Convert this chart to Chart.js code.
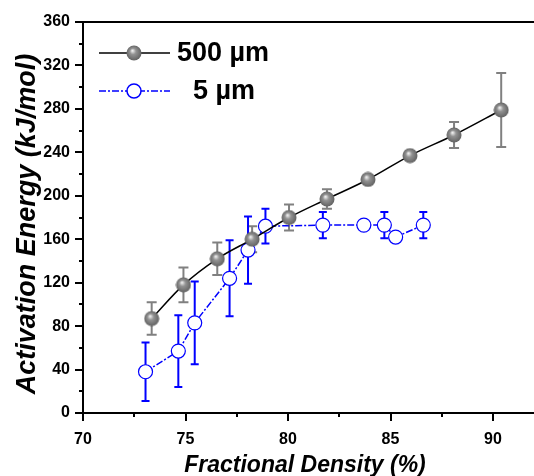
<!DOCTYPE html>
<html>
<head>
<meta charset="utf-8">
<script src="https://cdn.jsdelivr.net/npm/chart.js@4/dist/chart.umd.min.js"></script>
<style>html,body{margin:0;padding:0;background:#fff}</style>
</head>
<body>
<canvas id="myChart" width="534" height="476"></canvas>
<script>
// 500 um powder
const densityBig = [73.35, 74.9, 76.55, 78.25, 80.05, 81.9, 83.9, 85.95, 88.1, 90.4];
const energyBig = [87, 118, 142, 160, 180, 197, 215, 237, 256, 279];
const errorBig = [15, 16, 15, 12, 12, 9, 4, 4, 12, 34];

// 5 um powder
const densitySmall = [73.05, 74.65, 75.45, 77.15, 78.05, 78.9, 81.7, 83.7, 84.7, 85.25, 86.6];
const energySmall = [38, 57, 83, 124, 150, 172, 173, 173, 173, 162, 173];
const errorSmall = [27, 33, 38, 35, 31, 16, 12, 0, 12, 0, 12];

const xTicks = [70, 75, 80, 85, 90];
const yTicks = [0, 40, 80, 120, 160, 200, 240, 280, 320, 360];

const FONT = '"Liberation Sans", Arial, sans-serif';

function makeSphere(d) {
    const c = document.createElement('canvas');
    c.width = d; c.height = d;
    const g = c.getContext('2d');
    const r = d / 2;
    const grad = g.createRadialGradient(r * 0.8, r * 0.7, r * 0.05, r, r, r);
    grad.addColorStop(0, '#eeeeee');
    grad.addColorStop(0.35, '#939393');
    grad.addColorStop(1, '#5e5e5e');
    g.fillStyle = grad;
    g.beginPath();
    g.arc(r, r, r - 0.5, 0, Math.PI * 2);
    g.fill();
    return c;
}
const sphere = makeSphere(16);

function toPoints(xs, ys) {
    return xs.map((x, i) => ({ x: x, y: ys[i] }));
}

const errorBars = {
    id: 'errorBars',
    beforeDatasetsDraw(chart) {
        const ctx = chart.ctx;
        const xs = chart.scales.x, ys = chart.scales.y;
        const sets = [
            { xv: densityBig, yv: energyBig, e: errorBig, color: '#808080', cap: 5 },
            { xv: densitySmall, yv: energySmall, e: errorSmall, color: '#0000ff', cap: 4 }
        ];
        ctx.save();
        ctx.lineWidth = 2;
        sets.forEach(s => {
            ctx.strokeStyle = s.color;
            s.xv.forEach((xv, i) => {
                if (!s.e[i]) return;
                const px = xs.getPixelForValue(xv);
                const top = ys.getPixelForValue(s.yv[i] + s.e[i]);
                const bot = ys.getPixelForValue(s.yv[i] - s.e[i]);
                ctx.beginPath();
                ctx.moveTo(px, top); ctx.lineTo(px, bot);
                ctx.moveTo(px - s.cap, top); ctx.lineTo(px + s.cap, top);
                ctx.moveTo(px - s.cap, bot); ctx.lineTo(px + s.cap, bot);
                ctx.stroke();
            });
        });
        ctx.restore();
    }
};

const decorations = {
    id: 'decorations',
    afterDraw(chart) {
        const ctx = chart.ctx;
        const a = chart.chartArea;
        const xs = chart.scales.x, ys = chart.scales.y;
        ctx.save();
        ctx.strokeStyle = '#000';
        ctx.lineWidth = 2;
        // top frame line
        ctx.beginPath();
        ctx.moveTo(a.left - 1, a.top); ctx.lineTo(a.right, a.top);
        ctx.stroke();
        // ticks, major and minor, pointing outwards
        ctx.beginPath();
        for (let v = 70; v <= 92; v += 2.5) {
            const px = Math.round(xs.getPixelForValue(v));
            const len = v % 5 === 0 ? 8 : 4;
            ctx.moveTo(px, a.bottom); ctx.lineTo(px, a.bottom + len);
        }
        for (let v = 0; v <= 360; v += 20) {
            const py = Math.round(ys.getPixelForValue(v));
            const len = v % 40 === 0 ? 8 : 4;
            ctx.moveTo(a.left, py); ctx.lineTo(a.left - len, py);
        }
        ctx.stroke();

        // axis titles
        ctx.fillStyle = '#000';
        ctx.font = 'italic bold 23px ' + FONT;
        ctx.textAlign = 'center';
        ctx.textBaseline = 'alphabetic';
        ctx.fillText('Fractional Density (%)', 305, 472);
        ctx.translate(35, 224);
        ctx.rotate(-Math.PI / 2);
        ctx.font = 'italic bold 27px ' + FONT;
        ctx.fillText('Activation Energy (kJ/mol)', 0, 0);
        ctx.restore();

        // legend
        ctx.save();
        ctx.lineWidth = 1.5;
        ctx.strokeStyle = '#000';
        ctx.beginPath(); ctx.moveTo(99, 53); ctx.lineTo(170, 53); ctx.stroke();
        ctx.drawImage(sphere, 134 - 8, 53 - 8);
        ctx.strokeStyle = '#0000ff';
        ctx.setLineDash([7, 2, 2, 2]);
        ctx.beginPath(); ctx.moveTo(99, 91); ctx.lineTo(170, 91); ctx.stroke();
        ctx.setLineDash([]);
        ctx.fillStyle = '#fff';
        ctx.beginPath(); ctx.arc(134, 91, 7, 0, Math.PI * 2); ctx.fill(); ctx.stroke();
        ctx.fillStyle = '#000';
        ctx.font = 'bold 27px ' + FONT;
        ctx.textAlign = 'left';
        ctx.textBaseline = 'middle';
        ctx.fillText('500 \u00b5m', 177, 54);
        ctx.fillText('5 \u00b5m', 193, 92);
        ctx.restore();
    }
};

const ctx = document.getElementById('myChart').getContext('2d');
const myChart = new Chart(ctx, {
    type: 'line',
    data: {
        datasets: [{
            label: '500 \u00b5m',
            data: toPoints(densityBig, energyBig),
            borderColor: '#000',
            borderWidth: 1.5,
            cubicInterpolationMode: 'monotone',
            pointStyle: sphere,
            pointRadius: 8
        }, {
            label: '5 \u00b5m',
            data: toPoints(densitySmall, energySmall),
            borderColor: '#0000ff',
            borderWidth: 1.5,
            borderDash: [7, 2, 2, 2],
            tension: 0,
            pointStyle: 'circle',
            pointRadius: 7,
            pointBorderWidth: 1.2,
            pointBackgroundColor: '#fff',
            pointBorderColor: '#0000ff'
        }]
    },
    options: {
        responsive: false,
        animation: false,
        layout: { autoPadding: false, padding: { top: 22, right: 0, left: 0, bottom: 0 } },
        plugins: { legend: { display: false }, tooltip: { enabled: false } },
        scales: {
            x: {
                type: 'linear',
                min: 70,
                max: 92,
                afterFit: s => { s.height = 63; s.paddingLeft = 0; s.paddingRight = 0; },
                afterBuildTicks: s => { s.ticks = xTicks.map(v => ({ value: v })); },
                grid: { display: false, drawTicks: false },
                border: { color: '#000', width: 2 },
                ticks: { padding: 17, color: '#000', font: { family: FONT, size: 16, weight: 'bold' } }
            },
            y: {
                min: 0,
                max: 360,
                afterFit: s => { s.width = 83; s.paddingTop = 0; s.paddingBottom = 0; },
                afterBuildTicks: s => { s.ticks = yTicks.map(v => ({ value: v })); },
                grid: { display: false, drawTicks: false },
                border: { color: '#000', width: 2 },
                ticks: { padding: 13, color: '#000', font: { family: FONT, size: 16, weight: 'bold' } }
            }
        }
    },
    plugins: [errorBars, decorations]
});
</script>
</body>
</html>
